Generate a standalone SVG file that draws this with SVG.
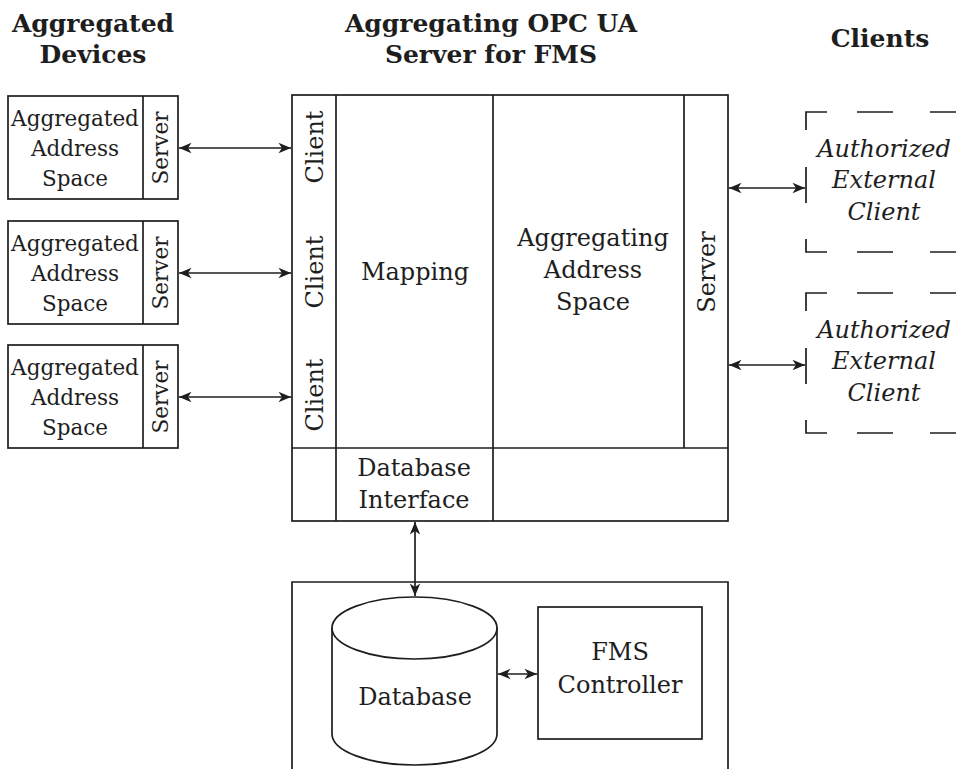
<svg xmlns="http://www.w3.org/2000/svg" width="956" height="769" viewBox="0 0 956 769">
  <style>
    .box { fill: none; stroke: #1e1e1e; stroke-width: 1.7; }
    .dash { fill: none; stroke: #1e1e1e; stroke-width: 1.7; stroke-linecap: butt; }
    .conn { fill: none; stroke: #1e1e1e; stroke-width: 1.7; marker-start: url(#head); marker-end: url(#head); }
    text { font-family: "DejaVu Serif", "Liberation Serif", serif; font-size: 24px; fill: #1e1e1e; text-anchor: middle; }
    .small { font-size: 21.5px; }
    .title { font-weight: bold; font-size: 25px; }
    .ital { font-style: italic; }
  </style>
  <defs>
    <marker id="head" markerUnits="userSpaceOnUse" markerWidth="14" markerHeight="12" viewBox="-13 -6 13 12" refX="0" refY="0" orient="auto-start-reverse">
      <path d="M0,0 L-12.5,-5.2 L-9,0 L-12.5,5.2 Z" fill="#1e1e1e"/>
    </marker>
  </defs>
  <rect width="956" height="769" fill="#fff"/>

  <!-- column headings -->
  <g id="headings">
    <text class="title" x="93" y="32">Aggregated</text>
    <text class="title" x="93" y="63">Devices</text>
    <text class="title" x="491" y="32">Aggregating OPC UA</text>
    <text class="title" x="491" y="63">Server for FMS</text>
    <text class="title" x="880" y="47">Clients</text>
  </g>

  <!-- aggregated devices -->
  <g id="device1">
    <rect class="box" x="8" y="96" width="170" height="103"/>
    <line class="box" x1="143" y1="96" x2="143" y2="199"/>
    <text class="small" x="75" y="126">Aggregated</text>
    <text class="small" x="75" y="156">Address</text>
    <text class="small" x="75" y="186">Space</text>
    <text class="small" transform="translate(168,148) rotate(-90)">Server</text>
  </g>
  <g id="device2">
    <rect class="box" x="8" y="221" width="170" height="103"/>
    <line class="box" x1="143" y1="221" x2="143" y2="324"/>
    <text class="small" x="75" y="251">Aggregated</text>
    <text class="small" x="75" y="281">Address</text>
    <text class="small" x="75" y="311">Space</text>
    <text class="small" transform="translate(168,273) rotate(-90)">Server</text>
  </g>
  <g id="device3">
    <rect class="box" x="8" y="345" width="170" height="103"/>
    <line class="box" x1="143" y1="345" x2="143" y2="448"/>
    <text class="small" x="75" y="375">Aggregated</text>
    <text class="small" x="75" y="405">Address</text>
    <text class="small" x="75" y="435">Space</text>
    <text class="small" transform="translate(168,397) rotate(-90)">Server</text>
  </g>

  <!-- aggregating server -->
  <g id="aggregating-server">
    <rect class="box" x="292" y="95" width="436" height="426"/>
    <line class="box" x1="336" y1="95" x2="336" y2="521"/>
    <line class="box" x1="493" y1="95" x2="493" y2="521"/>
    <line class="box" x1="684" y1="95" x2="684" y2="448"/>
    <line class="box" x1="292" y1="448" x2="728" y2="448"/>
    <text transform="translate(323,147) rotate(-90)">Client</text>
    <text transform="translate(323,272) rotate(-90)">Client</text>
    <text transform="translate(323,395) rotate(-90)">Client</text>
    <text x="415" y="280">Mapping</text>
    <text x="593" y="246">Aggregating</text>
    <text x="593" y="278">Address</text>
    <text x="593" y="310">Space</text>
    <text transform="translate(715,272) rotate(-90)">Server</text>
    <text x="414" y="476">Database</text>
    <text x="414" y="508">Interface</text>
  </g>

  <!-- external clients -->
  <g id="client1">
    <path class="dash" d="M827,112 H806 V130 M857,112 H893 M930,112 H960 M806,167 V203 M806,239 V252 H827 M857,252 H893 M930,252 H960"/>
    <text class="ital" x="884" y="157">Authorized</text>
    <text class="ital" x="884" y="188">External</text>
    <text class="ital" x="884" y="220">Client</text>
  </g>
  <g id="client2">
    <path class="dash" d="M827,293 H806 V311 M857,293 H893 M930,293 H960 M806,348 V384 M806,420 V433 H827 M857,433 H893 M930,433 H960"/>
    <text class="ital" x="884" y="338">Authorized</text>
    <text class="ital" x="884" y="369">External</text>
    <text class="ital" x="884" y="401">Client</text>
  </g>

  <!-- database side -->
  <g id="backend">
    <path class="box" d="M292,775 V582 H728 V775"/>
  </g>
  <g id="database">
    <path class="box" d="M332,628 A82.5,31 0 0 1 497,628 V734 A82.5,31 0 0 1 332,734 Z"/>
    <path class="box" d="M332,628 A82.5,31 0 0 0 497,628"/>
    <text x="415" y="705">Database</text>
  </g>
  <g id="fms-controller">
    <rect class="box" x="538" y="607" width="164" height="132"/>
    <text x="620" y="660">FMS</text>
    <text x="620" y="693">Controller</text>
  </g>

  <!-- connectors -->
  <g id="connectors">
    <line class="conn" x1="179" y1="148" x2="291" y2="148"/>
    <line class="conn" x1="179" y1="273" x2="291" y2="273"/>
    <line class="conn" x1="179" y1="397" x2="291" y2="397"/>
    <line class="conn" x1="729" y1="188" x2="805" y2="188"/>
    <line class="conn" x1="729" y1="365" x2="805" y2="365"/>
    <line class="conn" x1="415" y1="522" x2="415" y2="596"/>
    <line class="conn" x1="498" y1="674" x2="537" y2="674"/>
  </g>
</svg>
